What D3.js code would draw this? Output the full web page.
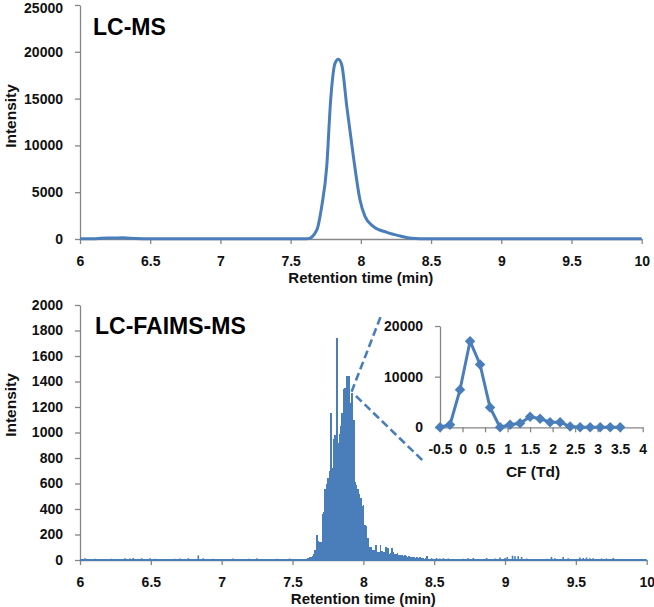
<!DOCTYPE html>
<html><head><meta charset="utf-8">
<script src="https://cdn.jsdelivr.net/npm/d3@7"></script>
<style>
body{margin:0;background:#fff;}
svg{display:block;}
.tick text{font-family:"Liberation Sans",Arial,sans-serif;font-weight:bold;font-size:14px;fill:#111;}
.axis path,.axis line{stroke:#868686;stroke-width:1.3px;}
</style></head>
<body>
<svg id="c" width="654" height="607"></svg>
<script>
// ---------- DATA ----------
// Top panel: LC-MS extracted ion chromatogram
const lcmsTime = [6.0, 6.1, 6.15, 6.2, 6.25, 6.3, 6.35, 6.4, 6.5, 7.0, 7.5, 7.6, 7.626, 7.686, 7.721, 7.757, 7.785, 7.816, 7.84, 7.864, 7.9, 7.947, 7.994, 8.03, 8.09, 8.185, 8.28, 8.36, 8.42, 9.0, 9.5, 10.0];
const lcmsIntensity = [30, 40, 80, 100, 110, 130, 90, 50, 30, 20, 20, 20, 40, 960, 3450, 7730, 14850, 18770, 19200, 18590, 14140, 8800, 4170, 2390, 1320, 710, 320, 70, 20, 20, 20, 20];

// Bottom panel: LC-FAIMS-MS scans (peak region)
const faimsTime = [7.60,7.61,7.62,7.63,7.64,7.65,7.66,7.67,7.68,7.69,7.70,7.71,7.72,7.73,7.74,7.75,7.76,7.77,7.78,7.79,7.80,7.81,7.82,7.83,7.84,7.85,7.86,7.87,7.88,7.89,7.90,7.91,7.92,7.93,7.94,7.95,7.96,7.97,7.98,7.99,8.00,8.01,8.02,8.03,8.04,8.05,8.06,8.07,8.08,8.09,8.10,8.11,8.12,8.13,8.14,8.15,8.16,8.17,8.18,8.19,8.20,8.21,8.22,8.23,8.24,8.25,8.26,8.27,8.28,8.29,8.30,8.31,8.32,8.33,8.34,8.35,8.36,8.37,8.38,8.39,8.40,8.41,8.42,8.43,8.44,8.45];
const faimsIntensity = [10,15,20,26,30,45,78,196,150,143,140,360,380,560,600,640,700,1150,720,950,980,1740,920,990,1050,1150,1340,1350,1440,1440,1440,1230,1310,1100,610,590,560,520,490,420,430,275,270,170,105,100,78,75,80,118,65,60,118,70,60,65,100,95,50,55,92,60,50,45,52,40,38,42,35,40,30,26,28,22,26,20,24,18,22,15,26,12,18,10,14,30];
// Bottom panel: sparse baseline noise scans
const noiseTime = [6.035,6.106,6.223,6.318,6.353,6.376,6.435,6.494,6.529,6.67,6.706,6.765,6.835,6.87,6.94,7.08,7.19,7.247,7.25,7.39,7.48,8.482,8.517,8.54,8.564,8.6,8.705,8.74,8.776,8.87,8.929,8.964,9.0,9.016,9.053,9.07,9.093,9.117,9.152,9.293,9.328,9.352,9.41,9.446,9.528,9.552,9.575,9.599,9.622,9.681,9.716,9.764];
const noiseIntensity = [14,10,10,14,12,16,14,14,10,10,12,14,36,14,10,12,10,12,10,10,12,14,16,12,14,12,10,14,16,16,12,20,16,24,34,30,30,24,12,10,24,14,24,14,20,16,20,14,14,12,12,16];

// Inset: intensity vs compensation field
const cfValues = [-0.5,-0.278,-0.056,0.167,0.389,0.611,0.833,1.056,1.278,1.5,1.722,1.944,2.167,2.389,2.611,2.833,3.056,3.278,3.5];
const cfIntensity = [0,500,7400,17000,12400,3900,0,500,800,2100,1700,1000,1000,150,0,0,0,0,0];

// Tick values
const rtTicks = [6,6.5,7,7.5,8,8.5,9,9.5,10];
const topYTicks = [0,5000,10000,15000,20000,25000];
const botYTicks = [0,200,400,600,800,1000,1200,1400,1600,1800,2000];
const cfTicks = [-0.5,0,0.5,1,1.5,2,2.5,3,3.5,4];
const cfYTicks = [0,10000,20000];

// ---------- DRAW ----------
const blue = "#4a7ebb";
const svg = d3.select("#c");
const fmt = d => String(d);

function axes(g, x, y, xt, yt){
  g.append("g").attr("class","axis").attr("transform",`translate(0,${y.range()[0]})`)
    .call(d3.axisBottom(x).tickValues(xt).tickFormat(fmt).tickSize(5).tickSizeOuter(0).tickPadding(12));
  return g.append("g").attr("class","axis").attr("transform",`translate(${x.range()[0]},0)`)
    .call(d3.axisLeft(y).tickValues(yt).tickFormat(fmt).tickSize(5).tickSizeOuter(0).tickPadding(12));
}

// Top panel
const xT = d3.scaleLinear().domain([6,10]).range([80,641.7]);
const yT = d3.scaleLinear().domain([0,25000]).range([239,5]);
const gT = svg.append("g");
const yAxT = axes(gT, xT, yT, rtTicks, topYTicks);
yAxT.selectAll(".tick text").filter(d=>d===25000).attr("dy","0.5em");
gT.append("path")
  .datum(lcmsTime.map((t,i)=>[t,lcmsIntensity[i]]))
  .attr("fill","none").attr("stroke",blue).attr("stroke-width",3).attr("stroke-linejoin","round")
  .attr("d", d3.line().x(d=>xT(d[0])).y(d=>yT(d[1])).curve(d3.curveMonotoneX));

// Bottom panel
const xB = d3.scaleLinear().domain([6,10]).range([80,646.7]);
const yB = d3.scaleLinear().domain([0,2000]).range([560,305]);
const gB = svg.append("g");
axes(gB, xB, yB, rtTicks, botYTicks);
const bw = xB(6.01)-xB(6);
gB.append("g").attr("shape-rendering","crispEdges").selectAll("rect").data(faimsTime.map((t,i)=>[t,faimsIntensity[i]]))
  .join("rect").attr("x",d=>xB(d[0])-bw/2).attr("width",bw+0.4)
  .attr("y",d=>yB(d[1])).attr("height",d=>yB(0)-yB(d[1])).attr("fill",blue);
gB.append("g").selectAll("rect").data(noiseTime.map((t,i)=>[t,noiseIntensity[i]]))
  .join("rect").attr("x",d=>xB(d[0])-0.8).attr("width",1.6)
  .attr("y",d=>yB(d[1])).attr("height",d=>yB(0)-yB(d[1])).attr("fill",blue);
gB.append("line").attr("x1",xB(6)).attr("x2",xB(10)).attr("y1",yB(0)).attr("y2",yB(0))
  .attr("stroke",blue).attr("stroke-width",2);

// Zoom lines (dashed) from peak apex towards inset
const zoomLines = [[[7.917,1320],[8.124,1914]],[[7.948,1286],[8.435,763]]];
gB.selectAll(".zl").data(zoomLines).join("line").attr("class","zl")
  .attr("x1",d=>xB(d[0][0])).attr("y1",d=>yB(d[0][1]))
  .attr("x2",d=>xB(d[1][0])).attr("y2",d=>yB(d[1][1]))
  .attr("stroke",blue).attr("stroke-width",2.6).attr("stroke-dasharray","8,4");

// Inset
const xI = d3.scaleLinear().domain([-0.5,4]).range([440,642.7]);
const yI = d3.scaleLinear().domain([0,20000]).range([427.3,326]);
const gI = svg.append("g");
axes(gI, xI, yI, cfTicks, cfYTicks);
const cfData = cfValues.map((v,i)=>[v,cfIntensity[i]]);
gI.append("path").datum(cfData).attr("fill","none").attr("stroke",blue).attr("stroke-width",3)
  .attr("stroke-linejoin","round")
  .attr("d", d3.line().x(d=>xI(d[0])).y(d=>yI(d[1])));
gI.selectAll(".dm").data(cfData).join("path").attr("class","dm")
  .attr("transform",d=>`translate(${xI(d[0])},${yI(d[1])})`)
  .attr("d", d3.symbol(d3.symbolDiamond2, 70)).attr("fill",blue);

// Texts
const tf = (sel,size)=>sel.attr("font-family","Liberation Sans, Arial, sans-serif").attr("font-weight","bold").attr("font-size",size).attr("fill","#111");
tf(svg.append("text").attr("x",(80+641.7)/2).attr("y",283).attr("text-anchor","middle").text("Retention time (min)"),"15px");
tf(svg.append("text").attr("x",(80+646.7)/2).attr("y",604).attr("text-anchor","middle").text("Retention time (min)"),"15px");
tf(svg.append("text").attr("transform","translate(16,116) rotate(-90)").attr("text-anchor","middle").text("Intensity"),"15.5px");
tf(svg.append("text").attr("transform","translate(16,405) rotate(-90)").attr("text-anchor","middle").text("Intensity"),"15.5px");
tf(svg.append("text").attr("x",533).attr("y",477).attr("text-anchor","middle").text("CF (Td)"),"15.5px");
const big = sel=>sel.attr("font-family","Liberation Sans, Arial, sans-serif").attr("font-weight","bold").attr("font-size","23px").attr("fill","#000");
big(svg.append("text").attr("x",93).attr("y",35).text("LC-MS"));
big(svg.append("text").attr("x",95).attr("y",334).text("LC-FAIMS-MS"));
</script>
</body></html>
